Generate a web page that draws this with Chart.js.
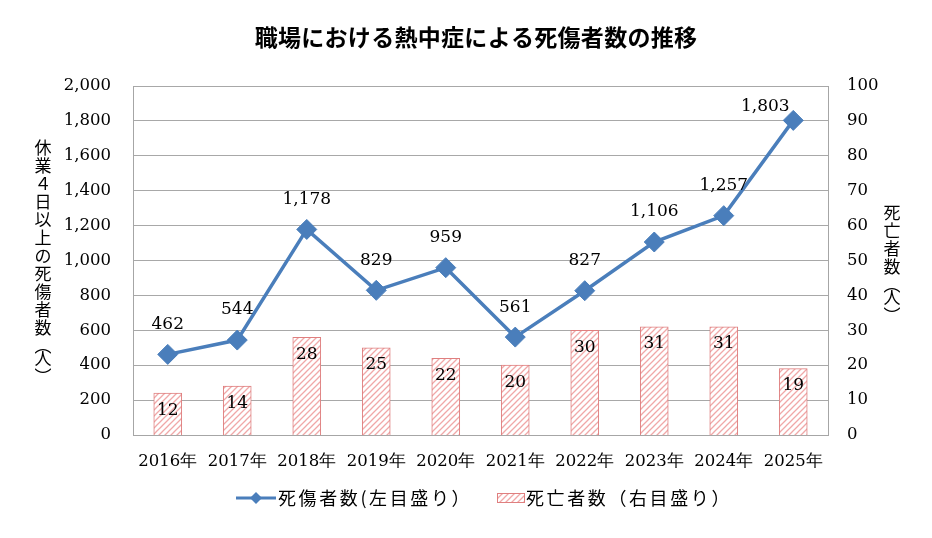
<!DOCTYPE html>
<html lang="ja">
<head>
<meta charset="utf-8">
<title>職場における熱中症による死傷者数の推移</title>
<script src="https://cdn.jsdelivr.net/npm/chart.js@4.4.1/dist/chart.umd.min.js"></script>
<style>
  html, body { margin: 0; padding: 0; background: #fff; }
  #wrap { width: 932px; height: 538px; position: relative; }
</style>
</head>
<body>
<div id="wrap"><canvas id="heatChart"></canvas></div>
<script>
// chart data
const years = ['2016年', '2017年', '2018年', '2019年', '2020年', '2021年', '2022年', '2023年', '2024年', '2025年'];
const casualties = [462, 544, 1178, 829, 959, 561, 827, 1106, 1257, 1803];   // 死傷者数 (left axis)
const deaths = [12, 14, 28, 25, 22, 20, 30, 31, 31, 19];                     // 死亡者数 (right axis)
const leftTicks = [0, 200, 400, 600, 800, 1000, 1200, 1400, 1600, 1800, 2000];
const rightTicks = [0, 10, 20, 30, 40, 50, 60, 70, 80, 90, 100];

const titleText = '職場における熱中症による死傷者数の推移';
const leftTitle = ['休', '業', '４', '日', '以', '上', 'の', '死', '傷', '者', '数', '︵', '人', '︶'];
const rightTitle = ['死', '亡', '者', '数', '︵', '人', '︶'];
const lineLegend = '死傷者数(左目盛り）';
const barLegend = '死亡者数（右目盛り）';

const lineColor = '#4a7ebb';
const barBorder = '#df7f7f';
const hatchColor = '#f0a8a8';
const numFont = "'DejaVu Serif', serif";
const jpFont = "'Noto Sans CJK JP', sans-serif";

// diagonal hatch pattern for the bars
function makeHatch() {
    const c = document.createElement('canvas');
    c.width = 6; c.height = 6;
    const g = c.getContext('2d');
    g.fillStyle = '#fff';
    g.fillRect(0, 0, 6, 6);
    g.strokeStyle = hatchColor;
    g.lineWidth = 1.3;
    g.beginPath();
    g.moveTo(-1, 7); g.lineTo(7, -1);
    g.moveTo(-1, 1); g.lineTo(1, -1);
    g.moveTo(5, 7); g.lineTo(7, 5);
    g.stroke();
    return g.createPattern(c, 'repeat');
}
const hatch = makeHatch();

// title, vertical axis titles, value labels and the legend
const extrasPlugin = {
    id: 'extras',
    afterDatasetsDraw(chart) {
        const ctx = chart.ctx;
        ctx.save();
        ctx.fillStyle = '#000';
        ctx.textAlign = 'center';
        ctx.textBaseline = 'middle';

        // title (sits a little right of the canvas centre in the original)
        ctx.font = 'bold 23px ' + jpFont;
        ctx.letterSpacing = '0.3px';
        ctx.fillText(titleText, 476, 37);
        ctx.letterSpacing = '0px';

        // bar labels, inside the top of each bar
        ctx.font = '17px ' + numFont;
        chart.getDatasetMeta(1).data.forEach((bar, i) => {
            ctx.fillText(String(deaths[i]), bar.x, bar.y + 17);
        });

        // line labels, above each point
        chart.getDatasetMeta(0).data.forEach((pt, i) => {
            const txt = casualties[i].toLocaleString('en-US');
            if (i === casualties.length - 1) {
                ctx.fillText(txt, pt.x - 28, pt.y - 14);
            } else {
                ctx.fillText(txt, pt.x, pt.y - 30);
            }
        });

        // vertical axis titles
        ctx.font = '17px ' + jpFont;
        const drawVert = (chars, x, yStart) => {
            let y = yStart;
            chars.forEach(ch => {
                const paren = ch === '︵' || ch === '︶';
                ctx.fillText(ch, x, y);
                y += paren ? 13 : 18;
            });
        };
        drawVert(leftTitle, 43, 148);
        drawVert(rightTitle, 892, 213);

        // legend
        const ly = 498;
        ctx.textAlign = 'left';
        ctx.font = '18px ' + jpFont;
        ctx.strokeStyle = lineColor;
        ctx.lineWidth = 3;
        ctx.beginPath(); ctx.moveTo(236, ly); ctx.lineTo(276, ly); ctx.stroke();
        ctx.fillStyle = lineColor;
        ctx.beginPath();
        ctx.moveTo(256, ly - 6); ctx.lineTo(262, ly); ctx.lineTo(256, ly + 6); ctx.lineTo(250, ly);
        ctx.closePath(); ctx.fill();
        ctx.fillStyle = '#000';
        ctx.letterSpacing = '2.6px';
        ctx.fillText(lineLegend, 278, ly);

        ctx.fillStyle = hatch;
        ctx.fillRect(497, ly - 5, 28, 10);
        ctx.strokeStyle = barBorder; ctx.lineWidth = 1;
        ctx.strokeRect(497.5, ly - 4.5, 27, 9);
        ctx.fillStyle = '#000';
        ctx.fillText(barLegend, 526, ly);
        ctx.restore();
    }
};

const chart = new Chart(document.getElementById('heatChart'), {
    data: {
        labels: years,
        datasets: [
            {
                type: 'line',
                label: lineLegend,
                data: casualties,
                yAxisID: 'yLeft',
                borderColor: lineColor,
                backgroundColor: lineColor,
                borderWidth: 3.5,
                pointStyle: 'rectRot',
                pointRadius: 10,
                pointHoverRadius: 10,
                pointBackgroundColor: lineColor,
                pointBorderColor: lineColor,
                pointBorderWidth: 1,
                tension: 0,
                order: 0
            },
            {
                type: 'bar',
                label: barLegend,
                data: deaths,
                yAxisID: 'yRight',
                backgroundColor: hatch,
                borderColor: barBorder,
                borderWidth: 1,
                barThickness: 28,
                order: 1
            }
        ]
    },
    options: {
        responsive: true,
        maintainAspectRatio: false,
        animation: false,
        layout: { padding: { top: 86, bottom: 63, left: 0, right: 0 } },
        scales: {
            x: {
                grid: { display: false, drawTicks: false },
                border: { display: true, color: '#a6a6a6', width: 1 },
                afterFit: s => { s.height = 40; },
                ticks: { color: '#000', font: { family: numFont, size: 16.5 }, padding: 17 }
            },
            yLeft: {
                position: 'left',
                min: 0, max: 2000,
                afterBuildTicks: s => { s.ticks = leftTicks.map(v => ({ value: v })); },
                afterFit: s => { s.width = 133; },
                grid: { color: '#a8a8a8', drawTicks: false },
                border: { display: true, color: '#a6a6a6' },
                ticks: {
                    color: '#000',
                    font: { family: numFont, size: 16.5 },
                    padding: 22,
                    callback: v => v.toLocaleString('en-US')
                }
            },
            yRight: {
                position: 'right',
                min: 0, max: 100,
                afterBuildTicks: s => { s.ticks = rightTicks.map(v => ({ value: v })); },
                afterFit: s => { s.width = 104; },
                grid: { display: false, drawTicks: false },
                border: { display: true, color: '#a6a6a6' },
                ticks: { color: '#000', font: { family: numFont, size: 16.5 }, padding: 19 }
            }
        },
        plugins: {
            title: { display: false },
            legend: { display: false },
            tooltip: { enabled: false }
        }
    },
    plugins: [extrasPlugin]
});
</script>
</body>
</html>
